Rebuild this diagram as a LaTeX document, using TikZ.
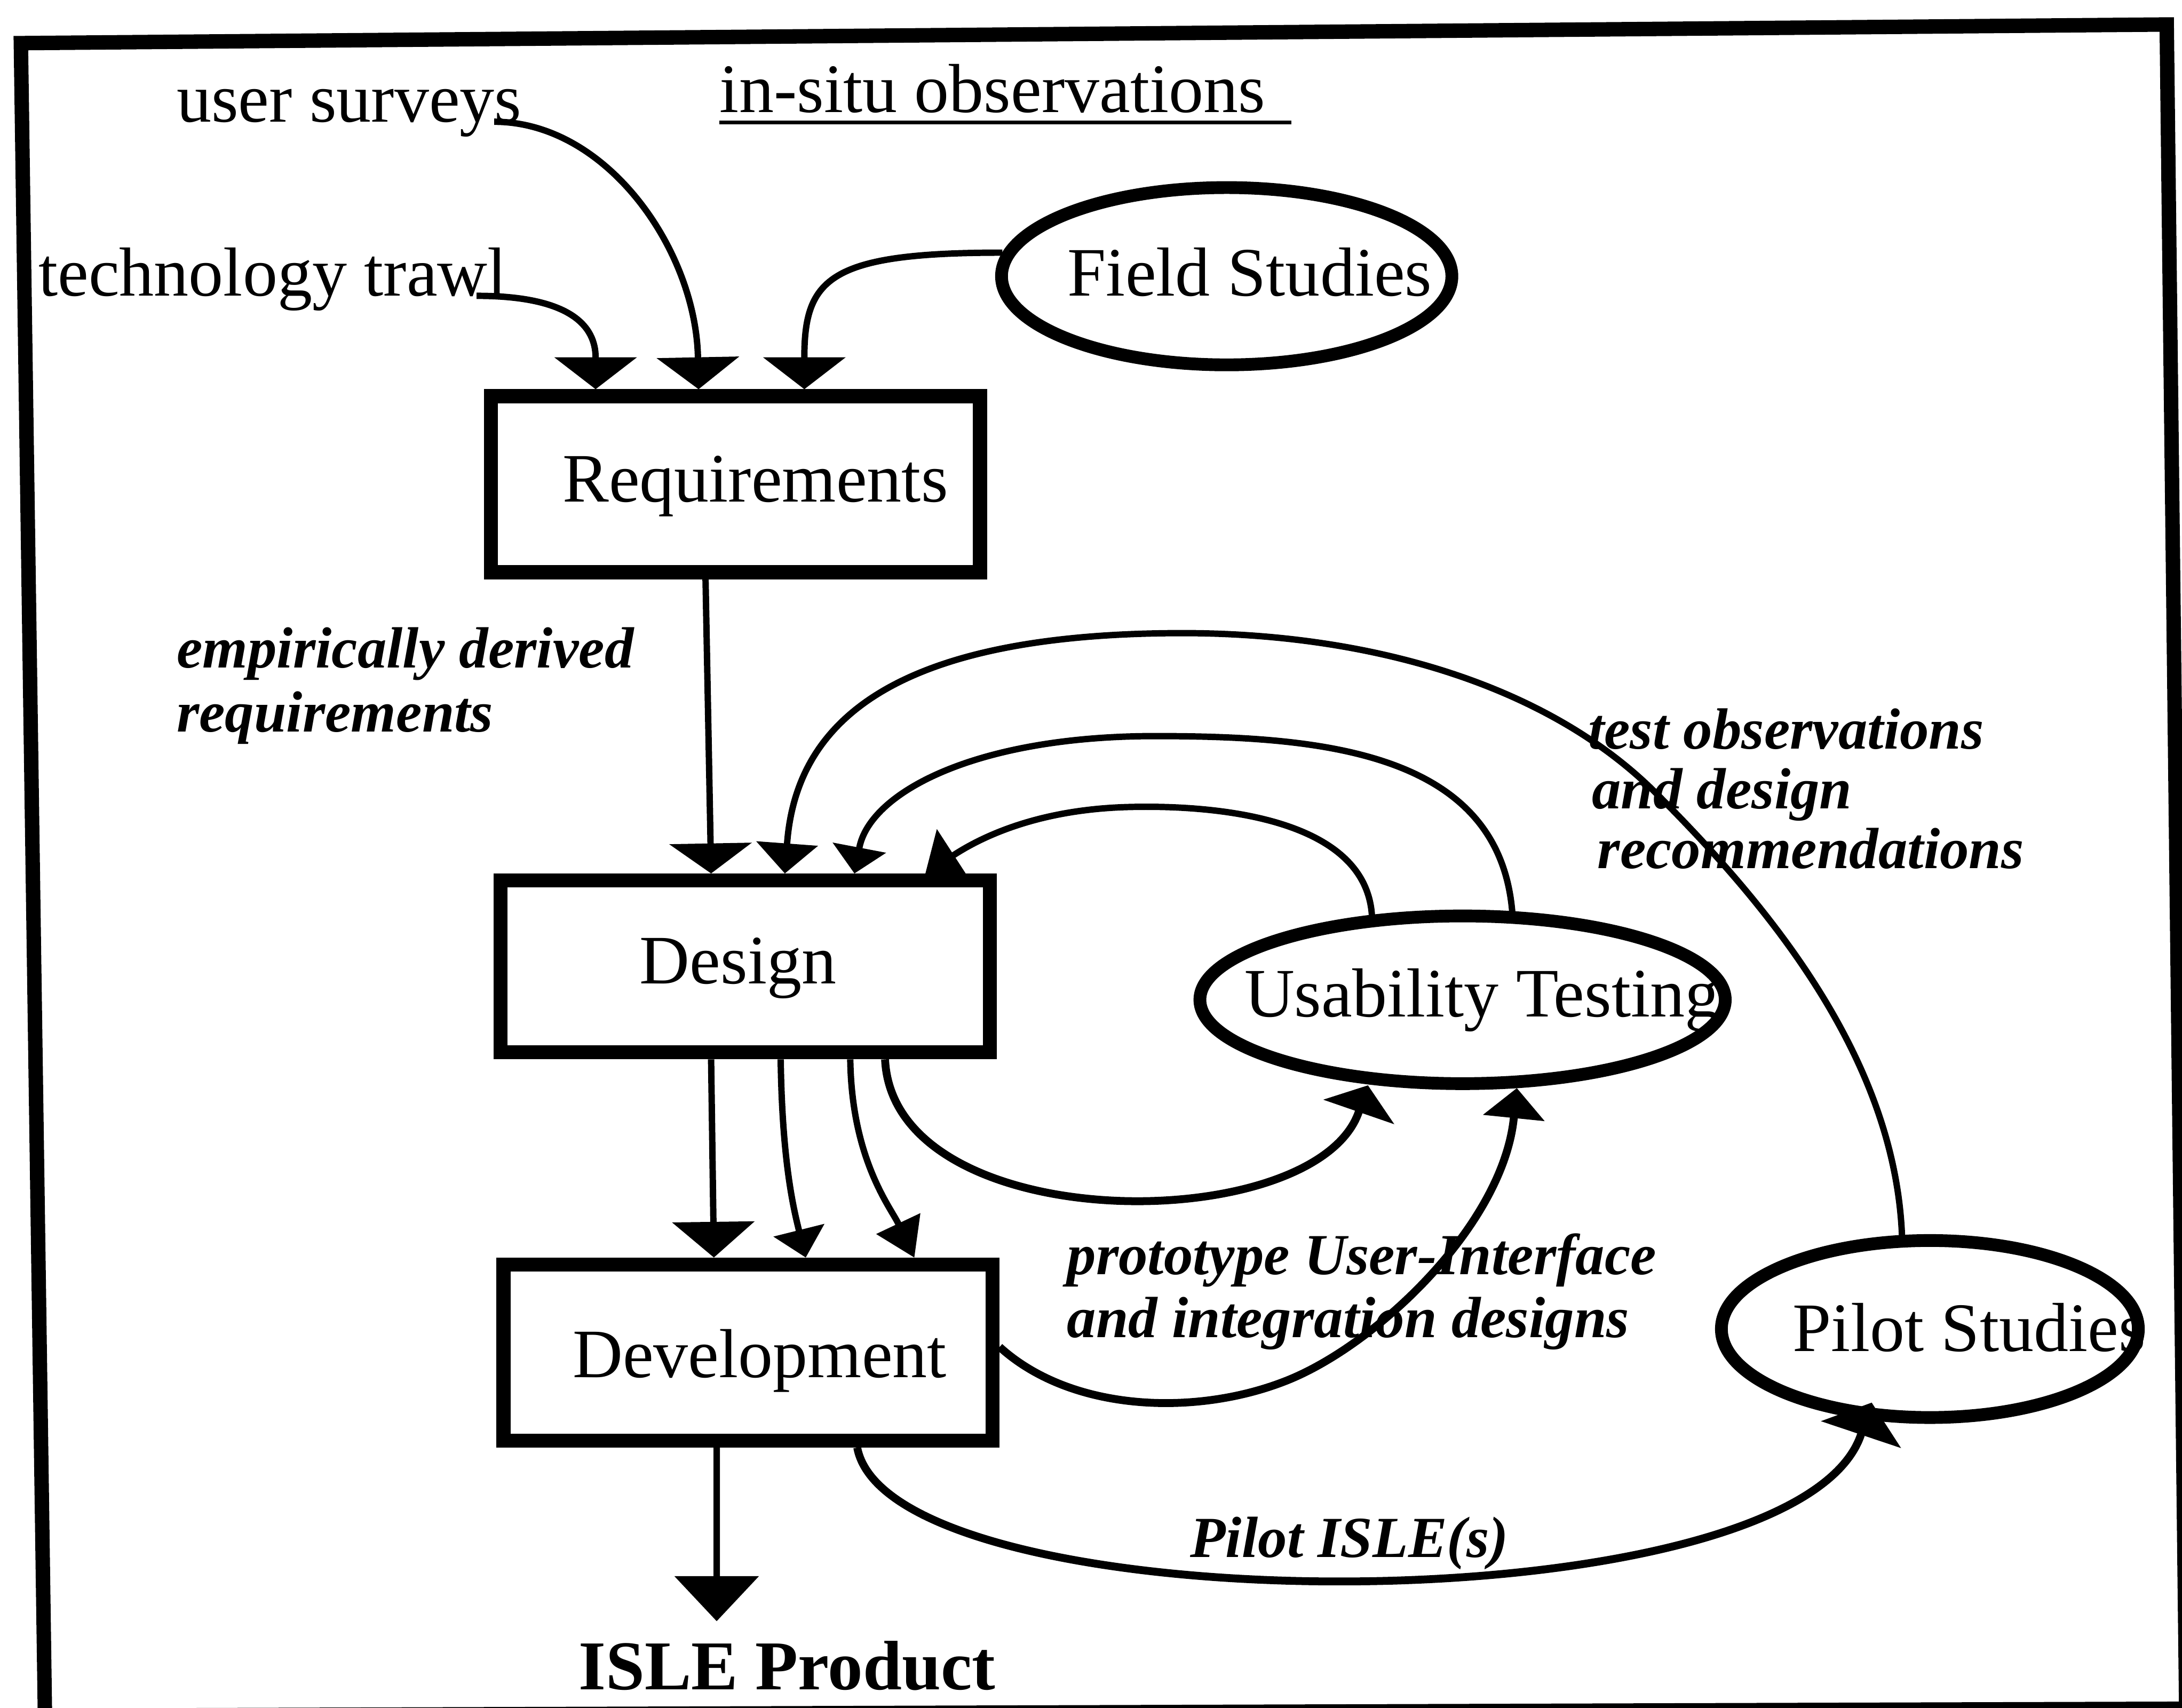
\documentclass[tikz,border=0pt]{standalone}
\usepackage{fontspec}
\setmainfont{Liberation Serif}
\usetikzlibrary{arrows.meta,calc,shapes.geometric}

\tikzset{
  boxnode/.style={draw, rectangle, line width=7.5pt, minimum width=9.1664cm, inner sep=0pt},
  ovalnode/.style={draw, ellipse, line width=6.8pt, inner sep=0pt},
  txtreg/.style={inner sep=0pt, anchor=base west, font=\fontsize{37}{44}\selectfont},
  txtnote/.style={inner sep=0pt, anchor=base west, align=left},
  flow/.style={line width=3.4pt},
  heavy/.style={line width=4.2pt},
  arrowhd/.style 2 args={-{Triangle[width=#1,length=#2,line width=0.5pt]}},
  framestyle/.style={line width=7.7pt, line join=miter},
}

\begin{document}
\begin{tikzpicture}[x=0.026078cm, y=-0.026078cm]
\useasboundingbox (0,0) rectangle (1568,1227.4);

% outer frame (slightly skewed, runs off the lower and right edges)
\draw[framestyle] (15,31) -- (1557,17.6) -- (1571,1228) -- (32.3,1233) -- cycle;

% process boxes
\node[boxnode, minimum height=3.2989cm] (req) at (528.5,348) {};
\node[boxnode, minimum height=3.2206cm] (des) at (535.5,694.5) {};
\node[boxnode, minimum height=3.2989cm] (dev) at (537.5,972) {};

% study ovals
\node[ovalnode, minimum width=8.4388cm, minimum height=3.3223cm] (field) at (881.5,198.5) {};
\node[ovalnode, minimum width=9.8444cm, minimum height=3.1424cm] (usab) at (1051,718.5) {};
\node[ovalnode, minimum width=7.8130cm, minimum height=3.3171cm] (pilot) at (1386.8,955.1) {};

% names inside boxes and ovals
\node[txtreg] (reqtxt) at (404,360.6) {Requirements};
\node[txtreg] (destxt) at (459.5,706.9) {Design};
\node[txtreg] (devtxt) at (411.3,989.8) {Development};
\node[txtreg] (fieldtxt) at (766.9,212.6) {Field Studies};
\node[txtreg] (usabtxt) at (894,730.8) {Usability Testing};
\node[txtreg] (pilottxt) at (1288,971.1) {Pilot Studies};

% free-standing inputs and output
\node[txtreg] (us) at (126.7,87.5) {user surveys};
\node[txtreg] (tt) at (27.4,212.6) {technology trawl};
\node[txtreg] (insitu) at (517,80.7) {in-situ observations};
\node[txtreg, font=\fontsize{37.3}{44}\selectfont\bfseries] (isle) at (415.5,1214.2) {ISLE Product};
\draw[line width=2.2pt] ($(insitu.base west)+(0,7.3)$) -- +(411,0);

% flow labels (anchored at the baseline of their last line)
\node[txtnote, font=\fontsize{31}{34.1}\selectfont\bfseries\itshape] (edr) at (126.7,526) {empirically derived\\requirements};
\node[txtnote, font=\fontsize{31}{31.9}\selectfont\bfseries\itshape] (tod) at (1141,624) {test observations\\\hspace*{2pt}and design\\\hspace*{5pt}recommendations};
\node[txtnote, font=\fontsize{31}{33.4}\selectfont\bfseries\itshape] (pui) at (766.5,961) {prototype User-Interface\\and integration designs};
\node[txtnote, font=\fontsize{31}{34}\selectfont\bfseries\itshape] (pisle) at (855,1119) {Pilot ISLE(s)};

% inputs to requirements
\draw[flow, arrowhd={44pt}{17pt}] ($(tt.base east)+(-22,0)$) .. controls +(68,0) and +(0,-45) .. ($(req.north)+(-100.5,0)$);
\draw[flow, arrowhd={44pt}{17pt}] ($(us.base east)+(-20,0)$) .. controls +(81,0) and +(-2,-100) .. ($(req.north)+(-26.5,0)$);
\draw[flow, arrowhd={44pt}{17pt}] (field.174) .. controls +(-124,0) and +(0,-80) .. ($(req.north)+(49.5,0)$);

% requirements to design
\draw[flow, arrowhd={44pt}{16pt}] ($(req.south)+(-21.5,0)$) -- ($(des.north)+(-24.5,0)$);

% feedback loops into design
\draw[flow, arrowhd={33pt}{16pt}] ($(pilot.north)+(-20,2)$) .. controls (1362,760) and (1270,650) .. (1190,570) .. controls (1110,490) and (980,455) .. (850,455) .. controls (640,455) and (572,520) .. ($(des.north)+(28.5,0)$);
\draw[flow, arrowhd={29pt}{14pt}] ($(usab.center)+(36,-59)$) .. controls (1080,540) and (950,529) .. (830,529) .. controls (700,529) and (625,570) .. ($(des.north)+(78.5,0)$);
\draw[flow, arrowhd={33pt}{18pt}] ($(usab.center)+(-65,-57)$) .. controls (985,590) and (880,578) .. (810,580) .. controls (740,582) and (700,605) .. ($(des.north)+(129.5,0)$);

% design to development
\draw[flow, arrowhd={44pt}{19pt}] ($(des.south)+(-24.5,0)$) -- ($(dev.north)+(-24.5,0)$);
\draw[flow, arrowhd={28pt}{15pt}] ($(des.south)+(25.5,0)$) .. controls +(1,72) and +(-9,-36) .. ($(dev.north)+(41.5,0)$);
\draw[flow, arrowhd={26pt}{20pt}] ($(des.south)+(75.5,0)$) .. controls +(1,72) and +(-17,-36) .. ($(dev.north)+(119.5,0)$);

% prototypes out to testing
\draw[heavy, arrowhd={40pt}{15pt}] ($(des.south)+(100.5,0)$) .. controls +(6,129) and +(-38,110) .. ($(usab.center)+(-68,61.5)$);
\draw[heavy, arrowhd={33pt}{16pt}] ($(dev.east)+(0,-4)$) .. controls (770,1015) and (860,1018) .. (925,992) .. controls (990,966) and (1080,880) .. ($(usab.center)+(39,63.5)$);
\draw[heavy, arrowhd={45pt}{18pt}] ($(dev.south)+(78.5,0)$) .. controls +(24,128) and +(-55,164) .. ($(pilot.center)+(-41.8,52.9)$);

% final product
\draw[flow, arrowhd={45pt}{24pt}] ($(dev.south)+(-22.5,0)$) -- ($(isle.north west)+(99.5,-14)$);
\end{tikzpicture}
\end{document}
